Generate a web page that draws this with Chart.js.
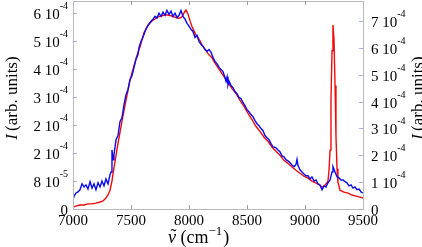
<!DOCTYPE html>
<html>
<head>
<meta charset="utf-8">
<script src="https://cdn.jsdelivr.net/npm/chart.js@4"></script>
<style>
  html, body { margin: 0; padding: 0; background: #fff; }
  canvas { display: block; }
</style>
</head>
<body>
<canvas id="spec" width="422" height="247"></canvas>
<script>
// intensities are in units of 1e-4 (arb. units)
const UNIT = 1e-4;

const NU_BLUE = [
  7000, 7009, 7026, 7043, 7060, 7078, 7095, 7112, 7129, 7147, 7164, 7181, 7198, 7216, 7233, 7250,
  7267, 7284, 7302, 7319, 7328, 7336, 7345, 7353, 7371, 7388, 7405, 7422, 7440, 7457, 7474, 7491,
  7509, 7526, 7543, 7560, 7569, 7586, 7603, 7621, 7638, 7655, 7672, 7690, 7707, 7724, 7741, 7759,
  7776, 7793, 7810, 7828, 7845, 7862, 7879, 7897, 7914, 7931, 7948, 7966, 7983, 8000, 8017, 8034,
  8052, 8069, 8086, 8103, 8121, 8138, 8155, 8172, 8190, 8207, 8224, 8241, 8259, 8276, 8293, 8310,
  8319, 8328, 8336, 8345, 8362, 8379, 8397, 8414, 8431, 8448, 8466, 8483, 8500, 8517, 8534, 8552,
  8569, 8586, 8603, 8621, 8638, 8655, 8672, 8690, 8707, 8724, 8750, 8767, 8784, 8802, 8819, 8836,
  8853, 8871, 8888, 8905, 8922, 8931, 8940, 8957, 8974, 8991, 9009, 9026, 9043, 9060, 9078, 9095,
  9112, 9129, 9147, 9164, 9181, 9198, 9216, 9233, 9241, 9259, 9276, 9293, 9310, 9328, 9345, 9362,
  9379, 9397, 9414, 9431, 9448, 9466, 9483, 9500
];
const I_BLUE = [
  0.26, 0.37, 0.46, 0.49, 0.55, 0.72, 0.63, 0.69, 0.57, 0.78, 0.60, 0.72, 0.55, 0.75, 0.63, 0.80,
  0.66, 0.86, 0.72, 0.98, 1.06, 1.69, 1.41, 1.55, 1.98, 2.10, 2.50, 2.61, 2.99, 3.27, 3.42, 3.70,
  3.82, 4.05, 4.28, 4.42, 4.62, 4.79, 4.91, 5.08, 5.20, 5.28, 5.37, 5.43, 5.51, 5.46, 5.60, 5.51,
  5.63, 5.54, 5.68, 5.57, 5.66, 5.51, 5.60, 5.48, 5.54, 5.68, 5.51, 5.43, 5.31, 5.23, 5.14, 5.08,
  4.91, 4.97, 4.79, 4.71, 4.65, 4.56, 4.51, 4.56, 4.48, 4.34, 4.22, 4.16, 4.05, 3.99, 3.93, 3.76,
  3.65, 3.78, 3.55, 3.66, 3.53, 3.47, 3.36, 3.30, 3.19, 3.16, 3.04, 2.96, 2.84, 2.78, 2.70, 2.64,
  2.53, 2.44, 2.38, 2.30, 2.24, 2.10, 2.04, 1.98, 1.87, 1.78, 1.75, 1.69, 1.64, 1.52, 1.49, 1.41,
  1.38, 1.32, 1.26, 1.21, 1.27, 1.42, 1.24, 1.12, 1.06, 1.00, 0.95, 0.95, 0.86, 0.92, 0.80, 0.83,
  0.72, 0.69, 0.55, 0.66, 0.63, 0.75, 0.83, 1.06, 1.21, 1.06, 0.92, 0.89, 0.83, 0.83, 0.78, 0.75,
  0.66, 0.69, 0.60, 0.63, 0.55, 0.57, 0.49, 0.46
];

const NU_RED = [
  7000, 7026, 7060, 7095, 7129, 7164, 7198, 7233, 7259, 7284, 7302, 7319, 7336, 7353, 7371, 7388,
  7405, 7422, 7440, 7457, 7474, 7491, 7509, 7526, 7543, 7560, 7578, 7595, 7612, 7629, 7647, 7664,
  7681, 7707, 7733, 7767, 7793, 7819, 7845, 7871, 7897, 7922, 7940, 7957, 7974, 7991, 8009, 8026,
  8043, 8060, 8078, 8095, 8112, 8129, 8147, 8164, 8181, 8198, 8216, 8233, 8250, 8267, 8302, 8336,
  8371, 8405, 8440, 8474, 8509, 8543, 8578, 8612, 8647, 8681, 8716, 8750, 8784, 8819, 8853, 8888,
  8922, 8957, 8991, 9026, 9060, 9095, 9129, 9147, 9164, 9181, 9198, 9207, 9216, 9224, 9233, 9241,
  9250, 9259, 9267, 9276, 9284, 9302, 9336, 9371, 9405, 9440, 9474, 9500
];
const I_RED = [
  0.07, 0.11, 0.15, 0.15, 0.19, 0.19, 0.22, 0.26, 0.30, 0.41, 0.52, 0.70, 1.04, 1.52, 2.00, 2.44,
  2.85, 3.26, 3.67, 4.04, 4.41, 4.78, 5.07, 5.33, 5.59, 5.82, 6.04, 6.30, 6.56, 6.70, 6.85, 6.93,
  7.00, 7.07, 7.15, 7.19, 7.22, 7.22, 7.19, 7.15, 7.11, 7.11, 7.15, 7.30, 7.41, 7.26, 7.00, 6.78,
  6.63, 6.48, 6.37, 6.26, 6.11, 6.00, 5.89, 5.78, 5.70, 5.63, 5.48, 5.37, 5.26, 5.15, 4.93, 4.70,
  4.48, 4.30, 4.04, 3.82, 3.56, 3.33, 3.07, 2.89, 2.67, 2.52, 2.30, 2.15, 2.00, 1.81, 1.70, 1.56,
  1.44, 1.33, 1.22, 1.15, 1.04, 0.96, 0.89, 0.81, 0.85, 0.93, 1.04, 1.44, 2.19, 4.04, 5.89, 6.85,
  6.30, 4.60, 2.70, 1.50, 1.00, 0.70, 0.63, 0.59, 0.52, 0.48, 0.44, 0.41
];

const X_TICKS = [7000, 7500, 8000, 8500, 9000, 9500];
const LEFT_TICKS = [0, 0.8, 1.6, 2.4, 3.2, 4.0, 4.8, 5.6];
const RIGHT_TICKS = [0, 1, 2, 3, 4, 5, 6, 7];

const SERIF = '"Liberation Serif", "Times New Roman", serif';

// "6 10^-4" style label, one significant digit
function sciParts(v) {
  if (v === 0) return ['0', ''];
  let exp = Math.floor(Math.log10(v) + 1e-9);
  let mant = Math.round(v / Math.pow(10, exp));
  if (mant === 10) { mant = 1; exp += 1; }
  return [mant + ' 10', String(exp)];
}

function drawSci(ctx, v, x, y, align) {
  const [main, sup] = sciParts(v);
  ctx.font = '15px ' + SERIF;
  const wm = ctx.measureText(main).width;
  ctx.font = '10px ' + SERIF;
  const ws = sup ? ctx.measureText(sup).width : 0;
  const x0 = align === 'right' ? x - wm - ws : x;
  ctx.font = '15px ' + SERIF;
  ctx.fillText(main, x0, y + 6);
  if (sup) {
    ctx.font = '10px ' + SERIF;
    ctx.fillText(sup, x0 + wm, y - 4);
  }
}

function drawPieces(ctx, pieces, x, y) {
  let cx = x;
  pieces.forEach((p) => {
    ctx.font = p.font;
    ctx.fillText(p.t, cx, y + (p.dy || 0));
    cx += ctx.measureText(p.t).width + (p.gap || 0);
  });
}

function piecesWidth(ctx, pieces) {
  return pieces.reduce((s, p) => { ctx.font = p.font; return s + ctx.measureText(p.t).width + (p.gap || 0); }, 0);
}

const framePlugin = {
  id: 'frame',
  afterDraw(chart) {
    const { ctx, chartArea: a, scales } = chart;
    ctx.save();
    ctx.lineWidth = 1;
    ctx.strokeStyle = '#b9b9c6';
    ctx.strokeRect(a.left + 0.5, a.top + 0.5, a.right - a.left, a.bottom - a.top);

    ctx.strokeStyle = '#9a9aa6';
    X_TICKS.slice(1, -1).forEach((v) => {
      const px = Math.round(scales.x.getPixelForValue(v)) + 0.5;
      ctx.beginPath();
      ctx.moveTo(px, a.bottom); ctx.lineTo(px, a.bottom - 4);
      ctx.moveTo(px, a.top); ctx.lineTo(px, a.top + 4);
      ctx.stroke();
    });

    ctx.strokeStyle = '#a9b0e6';
    LEFT_TICKS.forEach((v) => {
      const py = Math.round(scales.yL.getPixelForValue(v * UNIT)) + 0.5;
      ctx.beginPath(); ctx.moveTo(a.left, py); ctx.lineTo(a.left + 4, py); ctx.stroke();
    });
    RIGHT_TICKS.forEach((v) => {
      const py = Math.round(scales.yR.getPixelForValue(v * UNIT)) + 0.5;
      ctx.beginPath(); ctx.moveTo(a.right, py); ctx.lineTo(a.right - 4, py); ctx.stroke();
    });

    ctx.fillStyle = '#000';
    ctx.textBaseline = 'alphabetic';
    ctx.textAlign = 'left';
    LEFT_TICKS.forEach((v) => {
      drawSci(ctx, v * UNIT, a.left - 5, scales.yL.getPixelForValue(v * UNIT), 'right');
    });
    RIGHT_TICKS.forEach((v) => {
      drawSci(ctx, v * UNIT, a.right + 8, scales.yR.getPixelForValue(v * UNIT), 'left');
    });

    // x title: nu with a tilde on top, then (cm^-1)
    const tx = 168, tb = 243;
    ctx.font = 'italic 18px ' + SERIF;
    const wNu = ctx.measureText('\u03BD').width;
    ctx.fillText('\u03BD', tx, tb);
    ctx.font = '18px ' + SERIF;
    const wTil = ctx.measureText('\u02DC').width;
    ctx.fillText('\u02DC', tx + wNu / 2 - wTil / 2 + 1.5, tb - 1);
    const xTitle = [
      { t: ' (cm', font: '18px ' + SERIF },
      { t: '\u22121', font: '13px ' + SERIF, dy: -8, gap: 1 },
      { t: ')', font: '18px ' + SERIF }
    ];
    drawPieces(ctx, xTitle, tx + wNu, tb);

    const yTitle = [
      { t: 'I', font: 'italic 17px ' + SERIF, gap: 3 },
      { t: '(arb. units)', font: '17px ' + SERIF }
    ];
    const wy = piecesWidth(ctx, yTitle);
    [[17, 98], [423, 98]].forEach(([rx, ry]) => {
      ctx.save();
      ctx.translate(rx, ry);
      ctx.rotate(-Math.PI / 2);
      drawPieces(ctx, yTitle, -wy / 2, 0);
      ctx.restore();
    });
    ctx.restore();
  }
};

const toPoints = (xs, ys) => xs.map((x, i) => ({ x, y: ys[i] * UNIT }));

new Chart(document.getElementById('spec'), {
  type: 'line',
  data: {
    datasets: [
      {
        label: 'blue',
        data: toPoints(NU_BLUE, I_BLUE),
        yAxisID: 'yL',
        borderColor: '#0a0af0',
        borderWidth: 1.4,
        pointRadius: 0,
        tension: 0
      },
      {
        label: 'red',
        data: toPoints(NU_RED, I_RED),
        yAxisID: 'yR',
        borderColor: '#f00a0a',
        borderWidth: 1.4,
        pointRadius: 0,
        tension: 0
      }
    ]
  },
  options: {
    responsive: false,
    animation: false,
    devicePixelRatio: 1,
    layout: { padding: { top: 1, left: 0, right: 0, bottom: 0 } },
    plugins: { legend: { display: false }, tooltip: { enabled: false } },
    scales: {
      x: {
        type: 'linear',
        min: 7000,
        max: 9500,
        grid: { display: false, drawTicks: false },
        border: { display: false },
        afterBuildTicks: (s) => { s.ticks = X_TICKS.map((v) => ({ value: v })); },
        afterFit: (s) => { s.height = 38; },
        ticks: {
          color: '#000',
          font: { family: SERIF, size: 15 },
          padding: 3,
          maxRotation: 0,
          autoSkip: false,
          callback: (v) => String(v)
        }
      },
      yL: {
        position: 'left',
        min: 0,
        max: 5.95e-4,
        grid: { display: false, drawTicks: false },
        border: { display: false },
        ticks: { display: false },
        afterFit: (s) => { s.width = 73; }
      },
      yR: {
        position: 'right',
        min: 0,
        max: 7.74e-4,
        grid: { display: false, drawTicks: false },
        border: { display: false },
        ticks: { display: false },
        afterFit: (s) => { s.width = 59; }
      }
    }
  },
  plugins: [framePlugin]
});
</script>
</body>
</html>
